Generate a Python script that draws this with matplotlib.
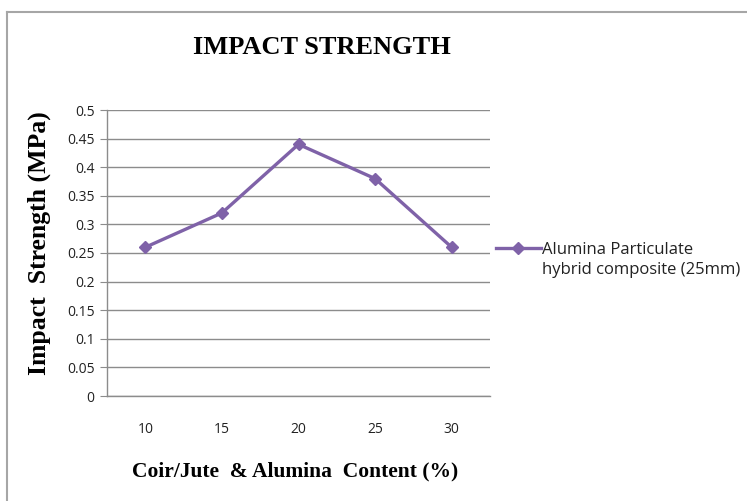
import matplotlib
matplotlib.use("Agg")
import matplotlib.pyplot as plt
from matplotlib.lines import Line2D

categories = ["10", "15", "20", "25", "30"]
impact_strength = [0.26, 0.32, 0.44, 0.38, 0.26]
y_ticks = [0, 0.05, 0.1, 0.15, 0.2, 0.25, 0.3, 0.35, 0.4, 0.45, 0.5]
series_label = ["Alumina Particulate", "hybrid composite (25mm)"]

W, H = 747, 501
fig = plt.figure(figsize=(W / 100, H / 100), dpi=100)
fig.patch.set_facecolor("white")

# outer chart frame (top and left edges)
frame_c = "#a6a6a6"
fig.add_artist(Line2D([7 / W, 1.0], [1 - 12 / H, 1 - 12 / H], color=frame_c, lw=1.5,
                      transform=fig.transFigure))
fig.add_artist(Line2D([7 / W, 7 / W], [1 - 12 / H, 0.0], color=frame_c, lw=1.5,
                      transform=fig.transFigure))

left, right, top, bottom = 107, 490, 110, 396
ax = fig.add_axes([left / W, 1 - bottom / H, (right - left) / W, (bottom - top) / H])

purple = "#7f62a8"
x = list(range(len(categories)))
line, = ax.plot(x, impact_strength, color=purple, lw=2.4, marker="D", markersize=6.5,
                markerfacecolor=purple, markeredgecolor=purple)

ax.set_xlim(-0.5, len(categories) - 0.5)
ax.set_ylim(0, 0.5)
ax.set_yticks(y_ticks)
ax.set_yticklabels([f"{v:g}" for v in y_ticks])
ax.set_xticks(x)
ax.set_xticklabels(categories)

grid_c = "#8c8c8c"
ax.yaxis.grid(True, color=grid_c, lw=1.0)
ax.set_axisbelow(True)
for s in ["top", "right"]:
    ax.spines[s].set_visible(False)
ax.spines["left"].set_color(grid_c)
ax.spines["bottom"].set_color(grid_c)
ax.spines["left"].set_linewidth(1.0)
ax.spines["bottom"].set_linewidth(1.0)

sans = ["Open Sans", "DejaVu Sans"]
ax.tick_params(axis="y", length=5, color=grid_c, pad=4, labelcolor="#222222")
ax.tick_params(axis="x", length=0, pad=19, labelcolor="#222222")
for lab in ax.get_yticklabels() + ax.get_xticklabels():
    lab.set_fontfamily(sans)
    lab.set_fontsize(10)

serif = ["Liberation Serif", "DejaVu Serif"]
fig.text(322 / W, 1 - 47 / H, "IMPACT STRENGTH", ha="center", va="center",
         fontfamily=serif, fontweight="bold", fontsize=19)
fig.text(295 / W, 1 - 471 / H, "Coir/Jute  & Alumina  Content (%)", ha="center", va="center",
         fontfamily=serif, fontweight="bold", fontsize=15.5)
fig.text(39 / W, 1 - 243 / H, "Impact  Strength (MPa)", ha="center", va="center",
         rotation=90, fontfamily=serif, fontweight="bold", fontsize=18.5)

blank = Line2D([], [], color="none")
leg = fig.legend([line, blank], series_label, loc="upper left",
                 bbox_to_anchor=(489 / W, 1 - 235 / H), frameon=False,
                 handlelength=2.7, handletextpad=0.1, borderaxespad=0,
                 labelspacing=0.25,
                 prop=dict(family=sans, size=12))
for t in leg.get_texts():
    t.set_color("#222222")

fig.savefig("out.png", dpi=100, facecolor="white")
